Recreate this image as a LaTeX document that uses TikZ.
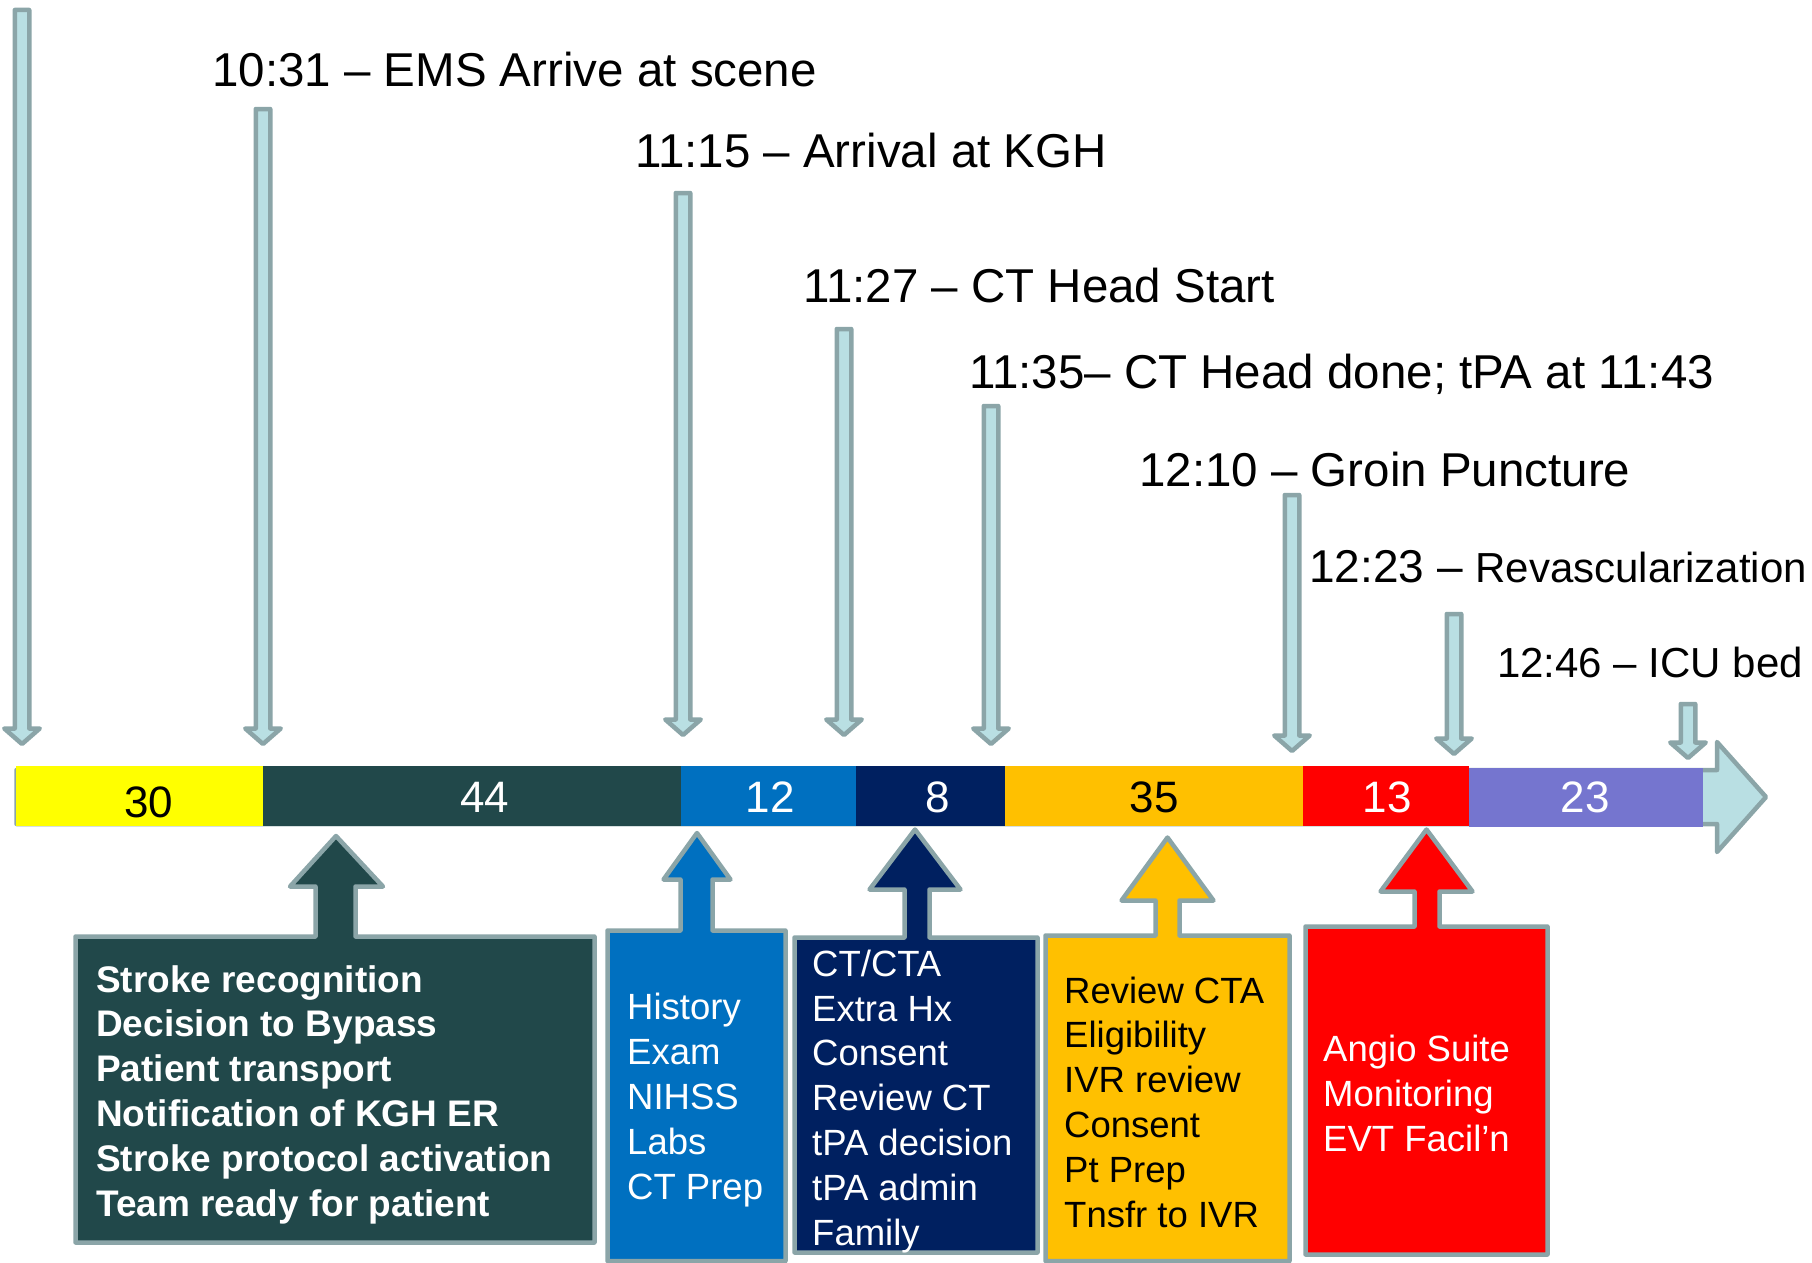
\documentclass[tikz,border=0pt]{standalone}
\usepackage{fontspec}
\setmainfont{Liberation Sans}

\definecolor{arrowfill}{RGB}{185,223,227}
\definecolor{arrowline}{RGB}{139,165,168}
\definecolor{evtyellow}{RGB}{255,255,0}
\definecolor{evtteal}{RGB}{33,72,74}
\definecolor{evtblue}{RGB}{0,112,192}
\definecolor{evtnavy}{RGB}{0,32,96}
\definecolor{evtorange}{RGB}{255,192,0}
\definecolor{evtred}{RGB}{255,0,0}
\definecolor{evtpurple}{RGB}{117,117,207}

% down arrow: centre x, top y, tip y
\newcommand{\tickarrow}[3]{%
  \draw[tick] (#1-7.25,#2) -- (#1+7.25,#2) -- (#1+7.25,#3-15.5) -- (#1+17.75,#3-15.5)
    -- (#1,#3) -- (#1-17.75,#3-15.5) -- (#1-7.25,#3-15.5) -- cycle;}

\begin{document}
\begin{tikzpicture}[x=1pt,y=-1pt,
    tick/.style={draw=arrowline, fill=arrowfill, line width=4.5pt, line join=round},
    callout/.style={draw=arrowline, line width=4.5pt, line join=round},
    timelbl/.style={anchor=base west, inner sep=0pt, font=\fontsize{47.5}{57}\selectfont},
    barnum/.style={inner sep=0pt, font=\fontsize{44}{53}\selectfont},
    boxtxt/.style={anchor=base west, inner sep=0pt, align=left, font=\fontsize{36.5}{44.8}\selectfont}]
    \useasboundingbox (0,0) rectangle (1812,1263);

    % timeline arrow behind the bar
    \draw[tick] (16.5,770) -- (1717,770) -- (1717,742) -- (1766,797) -- (1717,852) -- (1717,824) -- (16.5,824) -- cycle;

    % bar segments
    \fill[evtyellow] (16,766) rectangle (263,826);
    \fill[evtteal] (263,766) rectangle (681,826);
    \fill[evtblue] (681,766) rectangle (856,826);
    \fill[evtnavy] (856,766) rectangle (1005,826);
    \fill[evtorange] (1005,766) rectangle (1303,826);
    \fill[evtred] (1303,766) rectangle (1469,826);
    \fill[evtpurple] (1469,768) rectangle (1703,827);
    \node[barnum] (n30) at (149,802) {30};
    \node[barnum, text=white] (n44) at (485,797) {44};
    \node[barnum, text=white] (n12) at (770,797) {12};
    \node[barnum, text=white] (n8) at (938,797) {8};
    \node[barnum] (n35) at (1154,797) {35};
    \node[barnum, text=white] (n13) at (1387,797) {13};
    \node[barnum, text=white] (n23) at (1585,797) {23};

    % event arrows
    \tickarrow{22}{10}{744}
    \tickarrow{263}{109}{744}
    \tickarrow{683}{193}{735}
    \tickarrow{844}{329}{735}
    \tickarrow{991}{406}{744}
    \tickarrow{1292}{495}{751}
    \tickarrow{1454}{614}{754}
    \tickarrow{1688}{704}{758}

    % event times
    \node[timelbl] (ems) at (212,86) {10:31 – EMS Arrive at scene};
    \node[timelbl] (kgh) at (635,167) {11:15 – Arrival at KGH};
    \node[timelbl] (ctstart) at (803,302) {11:27 – CT Head Start};
    \node[timelbl] (ctdone) at (969,388) {11:35– CT Head done; tPA at 11:43};
    \node[timelbl] (groin) at (1139,486) {12:10 – Groin Puncture};
    \node[timelbl, font=\fontsize{46}{55}\selectfont] (revasc) at (1309,582) {12:23 – {\fontsize{42}{50}\selectfont Revascularization}};
    \node[timelbl, font=\fontsize{42}{50}\selectfont] (icu) at (1497,677) {12:46 – ICU bed};

    % callout boxes
    \draw[callout, fill=evtteal] (75.5,1242.5) -- (75.5,936.5) -- (315.5,936.5) -- (315.5,886.5) -- (290,886.5) -- (336,836)
        -- (383,886.5) -- (355.5,886.5) -- (355.5,936.5) -- (594.5,936.5) -- (594.5,1242.5) -- cycle;
    \draw[callout, fill=evtblue] (607.5,1261) -- (607.5,930.5) -- (680.5,930.5) -- (680.5,879.5) -- (663.5,879.5) -- (697,833)
        -- (730.5,879.5) -- (712.5,879.5) -- (712.5,930.5) -- (785.5,930.5) -- (785.5,1261) -- cycle;
    \draw[callout, fill=evtnavy] (794.5,1252.5) -- (794.5,937.5) -- (904.5,937.5) -- (904.5,889.5) -- (869.5,889.5) -- (915,829.5)
        -- (960.5,889.5) -- (929.5,889.5) -- (929.5,937.5) -- (1037.5,937.5) -- (1037.5,1252.5) -- cycle;
    \draw[callout, fill=evtorange] (1045.5,1261) -- (1045.5,935.5) -- (1155.5,935.5) -- (1155.5,900.5) -- (1121.5,900.5) -- (1167.5,837.5)
        -- (1213.5,900.5) -- (1179.5,900.5) -- (1179.5,935.5) -- (1289.5,935.5) -- (1289.5,1261) -- cycle;
    \draw[callout, fill=evtred] (1305.5,1254.5) -- (1305.5,926.5) -- (1414.5,926.5) -- (1414.5,891.5) -- (1380.5,891.5) -- (1426.5,829.5)
        -- (1472.5,891.5) -- (1439.5,891.5) -- (1439.5,926.5) -- (1547.5,926.5) -- (1547.5,1254.5) -- cycle;

    % callout texts (placed by the baseline of the last line)
    \node[boxtxt, text=white, font=\bfseries\fontsize{37}{44.8}\selectfont] (prehosp) at (96,1216)
        {Stroke recognition\\Decision to Bypass\\Patient transport\\Notification of KGH ER\\Stroke protocol activation\\Team ready for patient};
    \node[boxtxt, text=white] (erwork) at (627,1199) {History\\Exam\\NIHSS\\Labs\\CT Prep};
    \node[boxtxt, text=white] (ctwork) at (812,1245) {CT/CTA\\Extra Hx\\Consent\\Review CT\\tPA decision\\tPA admin\\Family};
    \node[boxtxt] (ivrwork) at (1064,1227) {Review CTA\\Eligibility\\IVR review\\Consent\\Pt Prep\\Tnsfr to IVR};
    \node[boxtxt, text=white] (angio) at (1323,1151) {Angio Suite\\Monitoring\\EVT Facil’n};
\end{tikzpicture}
\end{document}
